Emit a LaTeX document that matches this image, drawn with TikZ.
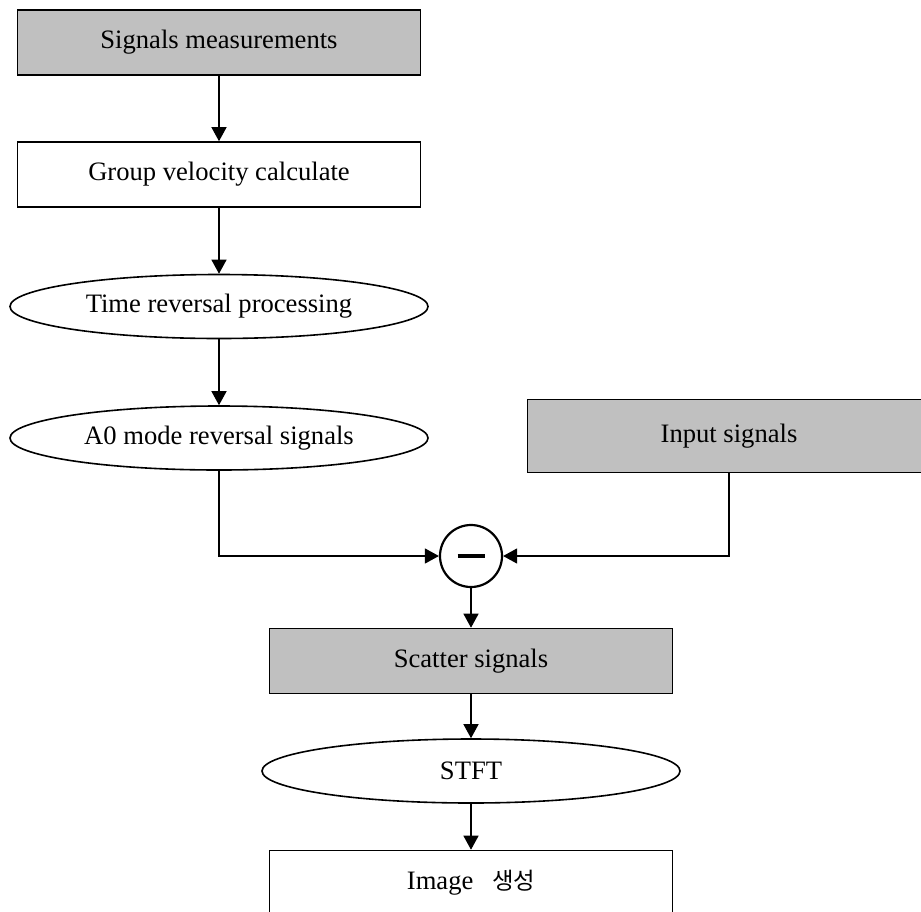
\documentclass[tikz,border=0pt]{standalone}
\usepackage{fontspec}
\setmainfont{Liberation Serif}
\newfontfamily\krfont[Scale=0.88]{Noto Sans CJK KR}
\usetikzlibrary{arrows,arrows.meta,shapes.geometric}
\definecolor{boxgray}{HTML}{C0C0C0}

\begin{document}
\begin{tikzpicture}[x=1pt, y=-1pt, > = {Triangle[length=14pt,width=15pt]},
    font=\fontsize{26.6}{30}\selectfont,
    box/.style = {draw, line width=1.6pt, rectangle, inner sep=0pt, minimum width=403pt, minimum height=65pt},
    graybox/.style = {box, fill=boxgray},
    oval/.style = {draw, line width=1.6pt, ellipse, inner sep=0pt, minimum width=418pt, minimum height=64pt},
    flow/.style = {line width=1.3pt, ->}]

    \clip (0,0) rectangle (921,911);

    % left column
    \node[graybox] (meas) at (219,42.5) {Signals measurements};
    \node[box] (group) at (219,174.5) {Group velocity calculate};
    \node[oval] (trp) at (219,306.5) {Time reversal processing};
    \node[oval] (azero) at (219,438) {A0 mode reversal signals};
    \node[graybox, minimum height=73pt] (input) at (729,436) {Input signals};

    % subtraction
    \node[draw, circle, line width=2.2pt, inner sep=0pt, minimum size=62pt] (minus) at (471,556) {\rule{27pt}{3.6pt}};

    % lower column
    \node[graybox] (scatter) at (471,661) {Scatter signals};
    \node[oval] (stft) at (471,771) {STFT};
    \node[box] (image) at (471,883) {Image\hspace{0.7em}{\krfont 생성}};

    % arrows
    \draw[flow] (meas) -- (group);
    \draw[flow] (group) -- (trp);
    \draw[flow] (trp) -- (azero);
    \draw[flow] (azero.south) |- (minus.west);
    \draw[flow] (input.south) |- (minus.east);
    \draw[flow] (minus) -- (scatter);
    \draw[flow] (scatter) -- (stft);
    \draw[flow] (stft) -- (image);

\end{tikzpicture}
\end{document}
